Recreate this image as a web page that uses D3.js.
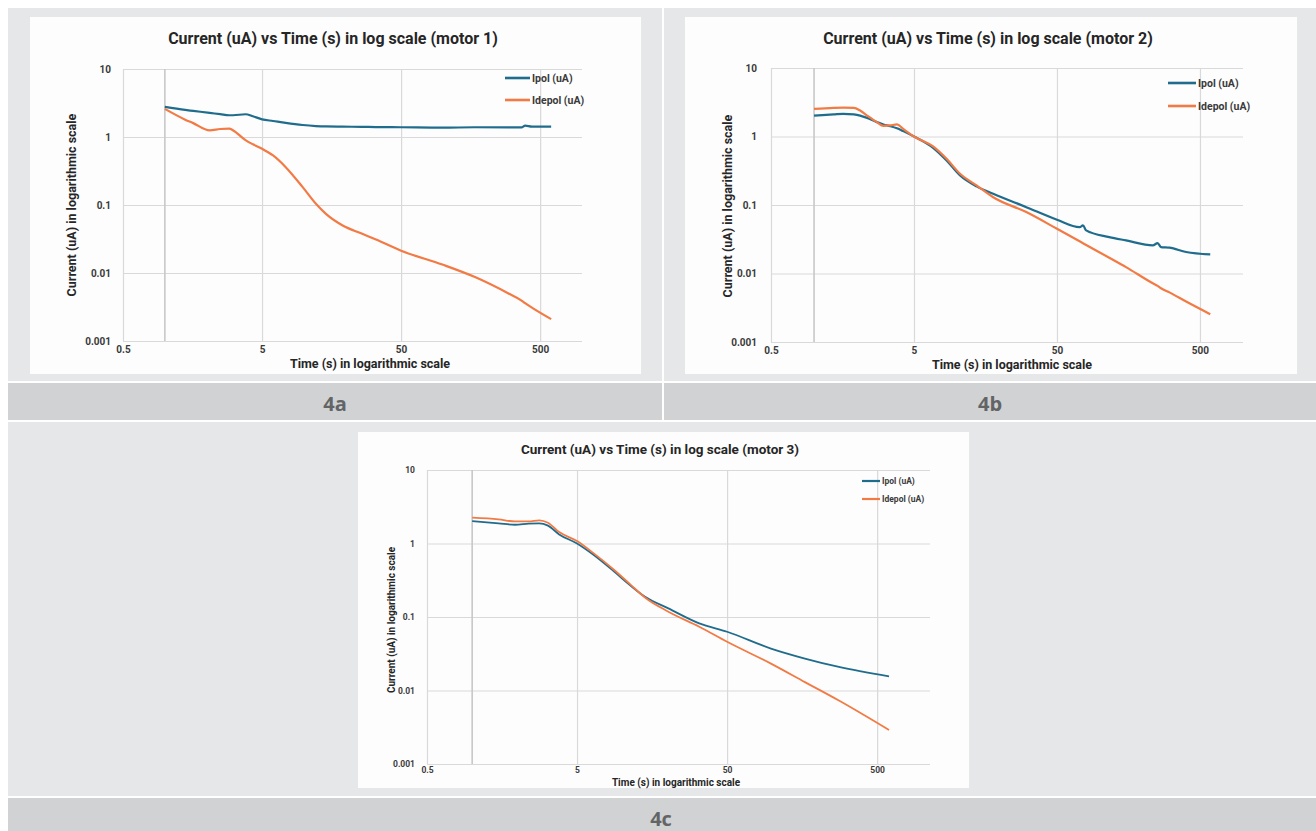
<!DOCTYPE html>
<html>
<head>
<meta charset="utf-8">
<script src="https://cdn.jsdelivr.net/npm/d3@7"></script>
<style>
  body { margin: 0; background: #ffffff; }
  text { font-family: "Liberation Sans Narrow", "Roboto", sans-serif; }
</style>
</head>
<body>
<div id="fig"></div>
<script>
// motor 1 readings
const m1Time   = [1, 1.4, 1.6, 2.1, 2.5, 2.9, 3.1, 3.8, 4.3, 5, 6, 7.4, 9.8, 12.2, 14.4, 19, 26, 33, 50, 99, 170, 296, 370, 390, 436, 600];
const m1Ipol   = [2.77, 2.5, 2.42, 2.26, 2.17, 2.09, 2.09, 2.16, 2.02, 1.82, 1.72, 1.61, 1.5, 1.45, 1.43, 1.42, 1.41, 1.40, 1.39, 1.37, 1.39, 1.39, 1.39, 1.47, 1.42, 1.42];
const m1Idepol = [2.59, 1.8, 1.6, 1.25, 1.31, 1.33, 1.25, 0.9, 0.78, 0.67, 0.535, 0.36, 0.183, 0.104, 0.074, 0.05, 0.038, 0.031, 0.0213, 0.0133, 0.0087, 0.005, 0.0039, 0.0036, 0.0031, 0.0021];

// motor 2 readings
const m2Time   = [1, 1.37, 1.6, 1.9, 2.1, 2.35, 2.75, 3.06, 3.4, 3.8, 4.2, 5, 6.8, 8.45, 10.5, 13.7, 17.9, 30.5, 50, 72, 76, 80, 116, 152, 234, 253, 267, 306, 400, 590];
const m2Ipol   = [2.02, 2.1, 2.14, 2.1, 2.02, 1.87, 1.62, 1.5, 1.42, 1.32, 1.2, 1.0, 0.684, 0.447, 0.27, 0.187, 0.146, 0.093, 0.061, 0.0476, 0.0503, 0.0426, 0.034, 0.0304, 0.0257, 0.0278, 0.0243, 0.0238, 0.0206, 0.019];
const m2Idepol = [2.53, 2.62, 2.64, 2.62, 2.39, 2.02, 1.62, 1.43, 1.45, 1.5, 1.29, 1.0, 0.715, 0.472, 0.286, 0.193, 0.13, 0.0788, 0.045, 0.0295, 0.0277, 0.0261, 0.017, 0.0124, 0.0072, 0.0066, 0.0061, 0.0053, 0.0039, 0.00255];

// motor 3 readings
const m3Time   = [1, 1.5, 1.93, 2.38, 2.8, 3.2, 3.8, 5, 6.4, 8.8, 11.4, 14.1, 20.3, 32.6, 50, 98, 165, 278, 600];
const m3Ipol   = [2.02, 1.88, 1.80, 1.86, 1.88, 1.75, 1.33, 1.0, 0.707, 0.418, 0.266, 0.19, 0.131, 0.082, 0.063, 0.0372, 0.0272, 0.0209, 0.0156];
const m3Idepol = [2.25, 2.13, 2.0, 2.0, 2.07, 1.92, 1.43, 1.08, 0.745, 0.44, 0.274, 0.186, 0.118, 0.0738, 0.046, 0.0232, 0.013, 0.0073, 0.0029];

const xTickVals   = [0.5, 5, 50, 500];
const xTickLabels = ["0.5", "5", "50", "500"];
const yTickVals   = [0.001, 0.01, 0.1, 1, 10];
const yTickLabels = ["0.001", "0.01", "0.1", "1", "10"];
const axisCross   = 1;
const seriesNames = ["Ipol (uA)", "Idepol (uA)"];
const seriesColors = ["#1f6c8d", "#f27a44"];
const titles = [
  "Current (uA) vs Time (s) in log scale (motor 1)",
  "Current (uA) vs Time (s) in log scale (motor 2)",
  "Current (uA) vs Time (s) in log scale (motor 3)"
];
const captions = ["4a", "4b", "4c"];
const yTitle = "Current (uA) in logarithmic scale";
const xTitle = "Time (s) in logarithmic scale";

const svg = d3.select("#fig")
  .append("svg")
    .attr("width", 1316)
    .attr("height", 831);

// table cells and caption bars
const cells = [
  {x: 8, y: 8, w: 654, h: 373, fill: "#e6e7e8"},
  {x: 664, y: 8, w: 652, h: 373, fill: "#e6e7e8"},
  {x: 8, y: 383, w: 654, h: 37, fill: "#d1d2d4"},
  {x: 664, y: 383, w: 652, h: 37, fill: "#d1d2d4"},
  {x: 8, y: 422, w: 1308, h: 374, fill: "#e6e7e8"},
  {x: 8, y: 798, w: 1308, h: 40, fill: "#d1d2d4"}
];
svg.selectAll("rect.cell")
  .data(cells)
  .enter()
  .append("rect")
    .attr("class", "cell")
    .attr("x", d => d.x).attr("y", d => d.y)
    .attr("width", d => d.w).attr("height", d => d.h)
    .attr("fill", d => d.fill);

const capPos = [[335, 411], [990, 411], [661, 826]];
captions.forEach((c, i) => {
  svg.append("text")
    .attr("x", capPos[i][0]).attr("y", capPos[i][1])
    .attr("text-anchor", "middle")
    .style("font-family", "'Open Sans', sans-serif")
    .style("font-weight", "bold")
    .style("font-size", "20px")
    .attr("fill", "#636466")
    .text(c);
});

function drawChart(cfg, time, ipol, idepol, title) {
  const g = svg.append("g");

  // chart image background
  g.append("rect")
    .attr("x", cfg.box[0]).attr("y", cfg.box[1])
    .attr("width", cfg.box[2]).attr("height", cfg.box[3])
    .attr("fill", "#fdfdfd");

  const x = d3.scaleLog().domain([0.5, cfg.xMax]).range(cfg.xr);
  const y = d3.scaleLog().domain([0.001, 10]).range(cfg.yr);
  const pw = cfg.xr[1] - cfg.xr[0];
  const ph = cfg.yr[0] - cfg.yr[1];

  // Y axis + horizontal gridlines
  const yAx = g.append("g")
    .attr("transform", `translate(${cfg.xr[0]},0)`)
    .call(d3.axisLeft(y).tickValues(yTickVals)
      .tickFormat((d, i) => yTickLabels[i])
      .tickSize(-pw).tickPadding(cfg.yPad));
  yAx.select(".domain").remove();
  yAx.selectAll("line").attr("stroke", "#d9d9d9").attr("stroke-width", 1.2);
  yAx.selectAll("text")
    .style("font-size", cfg.tickSize + "px").style("font-weight", "bold")
    .attr("fill", "#3a3a3a");

  // X axis + vertical gridlines
  const xAx = g.append("g")
    .attr("transform", `translate(0,${cfg.yr[0]})`)
    .call(d3.axisBottom(x).tickValues(xTickVals)
      .tickFormat((d, i) => xTickLabels[i])
      .tickSize(-ph).tickPadding(cfg.xPad));
  xAx.select(".domain").remove();
  xAx.selectAll("line").attr("stroke", "#d9d9d9").attr("stroke-width", 1.2);
  xAx.selectAll("text")
    .style("font-size", cfg.tickSize + "px").style("font-weight", "bold")
    .attr("fill", "#3a3a3a");

  // vertical axis crossing at t = 1
  g.append("line")
    .attr("x1", x(axisCross)).attr("x2", x(axisCross))
    .attr("y1", y(10)).attr("y2", y(0.001))
    .attr("stroke", "#c8c8c8").attr("stroke-width", 1.6);

  // series lines
  const line = d3.line()
    .x(d => x(d[0]))
    .y(d => y(d[1]))
    .curve(d3.curveMonotoneX);
  [ipol, idepol].forEach((vals, k) => {
    g.append("path")
      .datum(time.map((t, i) => [t, vals[i]]))
      .attr("fill", "none")
      .attr("stroke", seriesColors[k])
      .attr("stroke-width", cfg.lineW)
      .attr("stroke-linejoin", "round")
      .attr("d", line);
  });

  // legend
  seriesNames.forEach((n, k) => {
    const ly = cfg.leg[1] + k * cfg.leg[2];
    g.append("line")
      .attr("x1", cfg.leg[0]).attr("x2", cfg.leg[0] + cfg.leg[3])
      .attr("y1", ly).attr("y2", ly)
      .attr("stroke", seriesColors[k]).attr("stroke-width", cfg.lineW + 0.4);
    g.append("text")
      .attr("x", cfg.leg[0] + cfg.leg[3] + 2).attr("y", ly)
      .attr("dy", "0.35em")
      .style("font-size", cfg.legSize + "px").style("font-weight", "bold")
      .attr("fill", "#3a3a3a")
      .text(n);
  });

  // titles
  g.append("text")
    .attr("x", cfg.titleXY[0]).attr("y", cfg.titleXY[1])
    .attr("text-anchor", "middle")
    .style("font-size", cfg.titleSize + "px").style("font-weight", "bold")
    .attr("fill", "#262626")
    .text(title);
  g.append("text")
    .attr("transform", `translate(${cfg.yLab[0]},${cfg.yLab[1]})rotate(-90)`)
    .attr("text-anchor", "middle")
    .attr("dy", "0.35em")
    .style("font-size", cfg.labSize + "px").style("font-weight", "bold")
    .attr("fill", "#262626")
    .text(yTitle);
  g.append("text")
    .attr("x", cfg.xLab[0]).attr("y", cfg.xLab[1])
    .attr("text-anchor", "middle")
    .style("font-size", cfg.labSize + "px").style("font-weight", "bold")
    .attr("fill", "#262626")
    .text(xTitle);
}

drawChart({box: [30, 17, 611, 357], xr: [123, 582], yr: [341, 69], xMax: 1000,
  yPad: 12, xPad: 5, tickSize: 10, lineW: 2.2,
  leg: [505, 78, 22, 25], legSize: 10.5,
  titleXY: [333, 44], titleSize: 16, yLab: [72, 205], xLab: [370, 368], labSize: 12.5},
  m1Time, m1Ipol, m1Idepol, titles[0]);

drawChart({box: [685, 17, 612, 357], xr: [771, 1243], yr: [342, 68], xMax: 1000,
  yPad: 14, xPad: 5, tickSize: 10, lineW: 2.2,
  leg: [1168, 83, 23, 28], legSize: 10.5,
  titleXY: [988, 44], titleSize: 16, yLab: [728, 206], xLab: [1012, 369], labSize: 12.5},
  m2Time, m2Ipol, m2Idepol, titles[1]);

drawChart({box: [358, 432, 611, 356], xr: [427, 930], yr: [764, 470], xMax: 1125,
  yPad: 12, xPad: 3, tickSize: 8.5, lineW: 1.8,
  leg: [862, 481, 18, 18], legSize: 8.5,
  titleXY: [660, 454], titleSize: 13.5, yLab: [391, 620], xLab: [676, 786], labSize: 10},
  m3Time, m3Ipol, m3Idepol, titles[2]);
</script>
</body>
</html>
